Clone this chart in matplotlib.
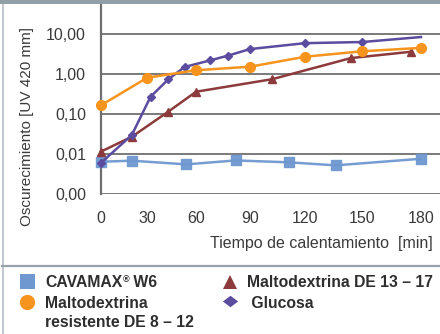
import numpy as np
import matplotlib
matplotlib.use("Agg")
import matplotlib.pyplot as plt
from matplotlib.lines import Line2D
from matplotlib.patches import Rectangle

# ---- data -------------------------------------------------------------
x_ticks = [0, 30, 60, 90, 120, 150, 180]
x_tick_labels = ["0", "30", "60", "90", "120", "150", "180"]
y_ticks = [10, 1, 0.1, 0.01, 0.001]
y_tick_labels = ["10,00", "1,00", "0,10", "0,01", "0,00"]

cavamax_t = [0, 20, 54, 82, 111, 136, 180]
cavamax_v = [0.0064, 0.0068, 0.0055, 0.0069, 0.0062, 0.0052, 0.0076]

malto_res_t = [0, 30, 60, 90, 120, 150, 180]
malto_res_v = [0.165, 0.81, 1.24, 1.52, 2.7, 3.7, 4.5]

malto_de_t = [0, 20, 43, 60, 102, 144, 175]
malto_de_v = [0.0115, 0.027, 0.115, 0.36, 0.74, 2.5, 3.6]

glucosa_t = [0, 20, 32, 43, 53, 68, 78, 90, 120, 150, 180]
glucosa_v = [0.006, 0.03, 0.27, 0.74, 1.5, 2.2, 2.9, 4.2, 5.9, 6.3, 8.4]

# ---- style ------------------------------------------------------------
C_BLUE = "#6f98d0"
C_ORANGE = "#f7941d"
C_RED = "#8c3a3b"
C_PURPLE = "#5c4c9f"
TXT = "#3a3a3a"
LEG_TXT = "#2e2e2e"
plt.rcParams["font.family"] = ["Liberation Sans", "DejaVu Sans"]

fig = plt.figure(figsize=(4.40, 3.34), dpi=100)
W, H = 440, 334
PX = 72 / 100  # points per pixel

# uneven time axis: each tick sits at its own position
knots_t = np.array([0, 30, 60, 90, 120, 150, 180, 220])
knots_p = np.array([101, 147.3, 196, 250, 305, 362.3, 421, 499.7])

def fwd(t):
    return np.interp(t, knots_t, knots_p)

def inv(p):
    return np.interp(p, knots_p, knots_t)

ax = fig.add_axes([101 / W, (H - 194) / H, (W - 101) / W, (194 - 3) / H])
ax.set_xscale("function", functions=(fwd, inv))
ax.set_yscale("log")
ax.set_xlim(0, float(inv(440)))
ax.set_ylim(0.001, 10 ** (1 + 31 / 40))

ax.set_yticks(y_ticks)
ax.set_yticklabels(y_tick_labels)
ax.yaxis.set_minor_locator(matplotlib.ticker.NullLocator())
ax.set_xticks(x_ticks)
ax.set_xticklabels(x_tick_labels)
ax.xaxis.set_minor_locator(matplotlib.ticker.NullLocator())
ax.tick_params(axis="both", length=0, labelsize=11.5, labelcolor=TXT)
ax.tick_params(axis="y", pad=15 * PX)
ax.tick_params(axis="x", pad=17 * PX)

for s in ["top", "right", "bottom"]:
    ax.spines[s].set_visible(False)
ax.spines["left"].set_color("#6e6e6e")
ax.spines["left"].set_linewidth(1.6)
ax.grid(axis="y", color="#7a7a7a", linewidth=1.4)
ax.set_axisbelow(True)

ax.plot(cavamax_t, cavamax_v, color=C_BLUE, lw=1.8, marker="s", ms=7.5,
        alpha=0.95, clip_on=False, zorder=3)
ax.plot(malto_de_t, malto_de_v, color=C_RED, lw=1.8, marker="^", ms=6,
        clip_on=False, zorder=4)
ax.plot(glucosa_t, glucosa_v, color=C_PURPLE, lw=1.8, marker="D", ms=4.5,
        markevery=list(range(len(glucosa_t) - 1)), clip_on=False, zorder=5)
ax.plot(malto_res_t, malto_res_v, color=C_ORANGE, lw=1.8, marker="o", ms=7,
        clip_on=False, zorder=6)

fig.text(27 / W, 1 - 127 / H, "Oscurecimiento [UV 420 mm]", rotation=90,
         ha="center", va="center", fontsize=11, color=TXT)
fig.text(433 / W, 1 - 243.5 / H, "Tiempo de calentamiento  [min]",
         ha="right", va="center", fontsize=11.5, color=TXT)

# ---- frame lines --------------------------------------------------------
fig.add_artist(Rectangle((0, 1 - 3.5 / H), 1, 3.5 / H, transform=fig.transFigure,
                         color="#939fa7", lw=0, zorder=10))
fig.add_artist(Line2D([2.5 / W, 2.5 / W], [0, 1], transform=fig.transFigure,
                      color="#c3c9ce", lw=1.5))
fig.add_artist(Line2D([2 / W, 1], [1 - 265.5 / H, 1 - 265.5 / H],
                      transform=fig.transFigure, color="#97a2aa", lw=1.6))

# ---- legend -------------------------------------------------------------
def fy(y):
    return 1 - y / H

LEG_FS = 11.3
wide_diamond = [(-1, 0), (0, 0.75), (1, 0), (0, -0.75), (-1, 0)]
legend_marks = [
    (27, 280.5, "s", 10.8, C_BLUE),
    (27, 301.5, "o", 11, C_ORANGE),
    (230, 282, "^", 10.5, C_RED),
    (230, 301, wide_diamond, 11, C_PURPLE),
]
for mx, my, mk, msz, col in legend_marks:
    fig.add_artist(Line2D([mx / W], [fy(my)], transform=fig.transFigure,
                          marker=mk, ms=msz, color=col, lw=0, mew=0))

def leg_text(x, y, s, **kw):
    return fig.text(x / W, fy(y), s, ha="left", va="baseline", fontsize=LEG_FS,
                    color=LEG_TXT, fontweight="bold", **kw)

# CAVAMAX with a small raised registered sign
renderer = fig.canvas.get_renderer()
t1 = leg_text(45, 287, "CAVAMAX")
w1 = t1.get_window_extent(renderer).width
t2 = fig.text((45 + w1 + 0.5) / W, fy(282), "\u00ae", ha="left", va="baseline",
              fontsize=6.5, color=LEG_TXT, fontweight="bold")
w2 = t2.get_window_extent(renderer).width
leg_text(45 + w1 + w2 + 0.5, 287, " W6")

leg_text(45, 307.5, "Maltodextrina")
leg_text(45, 327, "resistente DE 8 \u2013 12")
leg_text(247, 287, "Maltodextrina DE 13 \u2013 17")
leg_text(247, 307.5, " Glucosa")

fig.savefig("out.png", dpi=100)
